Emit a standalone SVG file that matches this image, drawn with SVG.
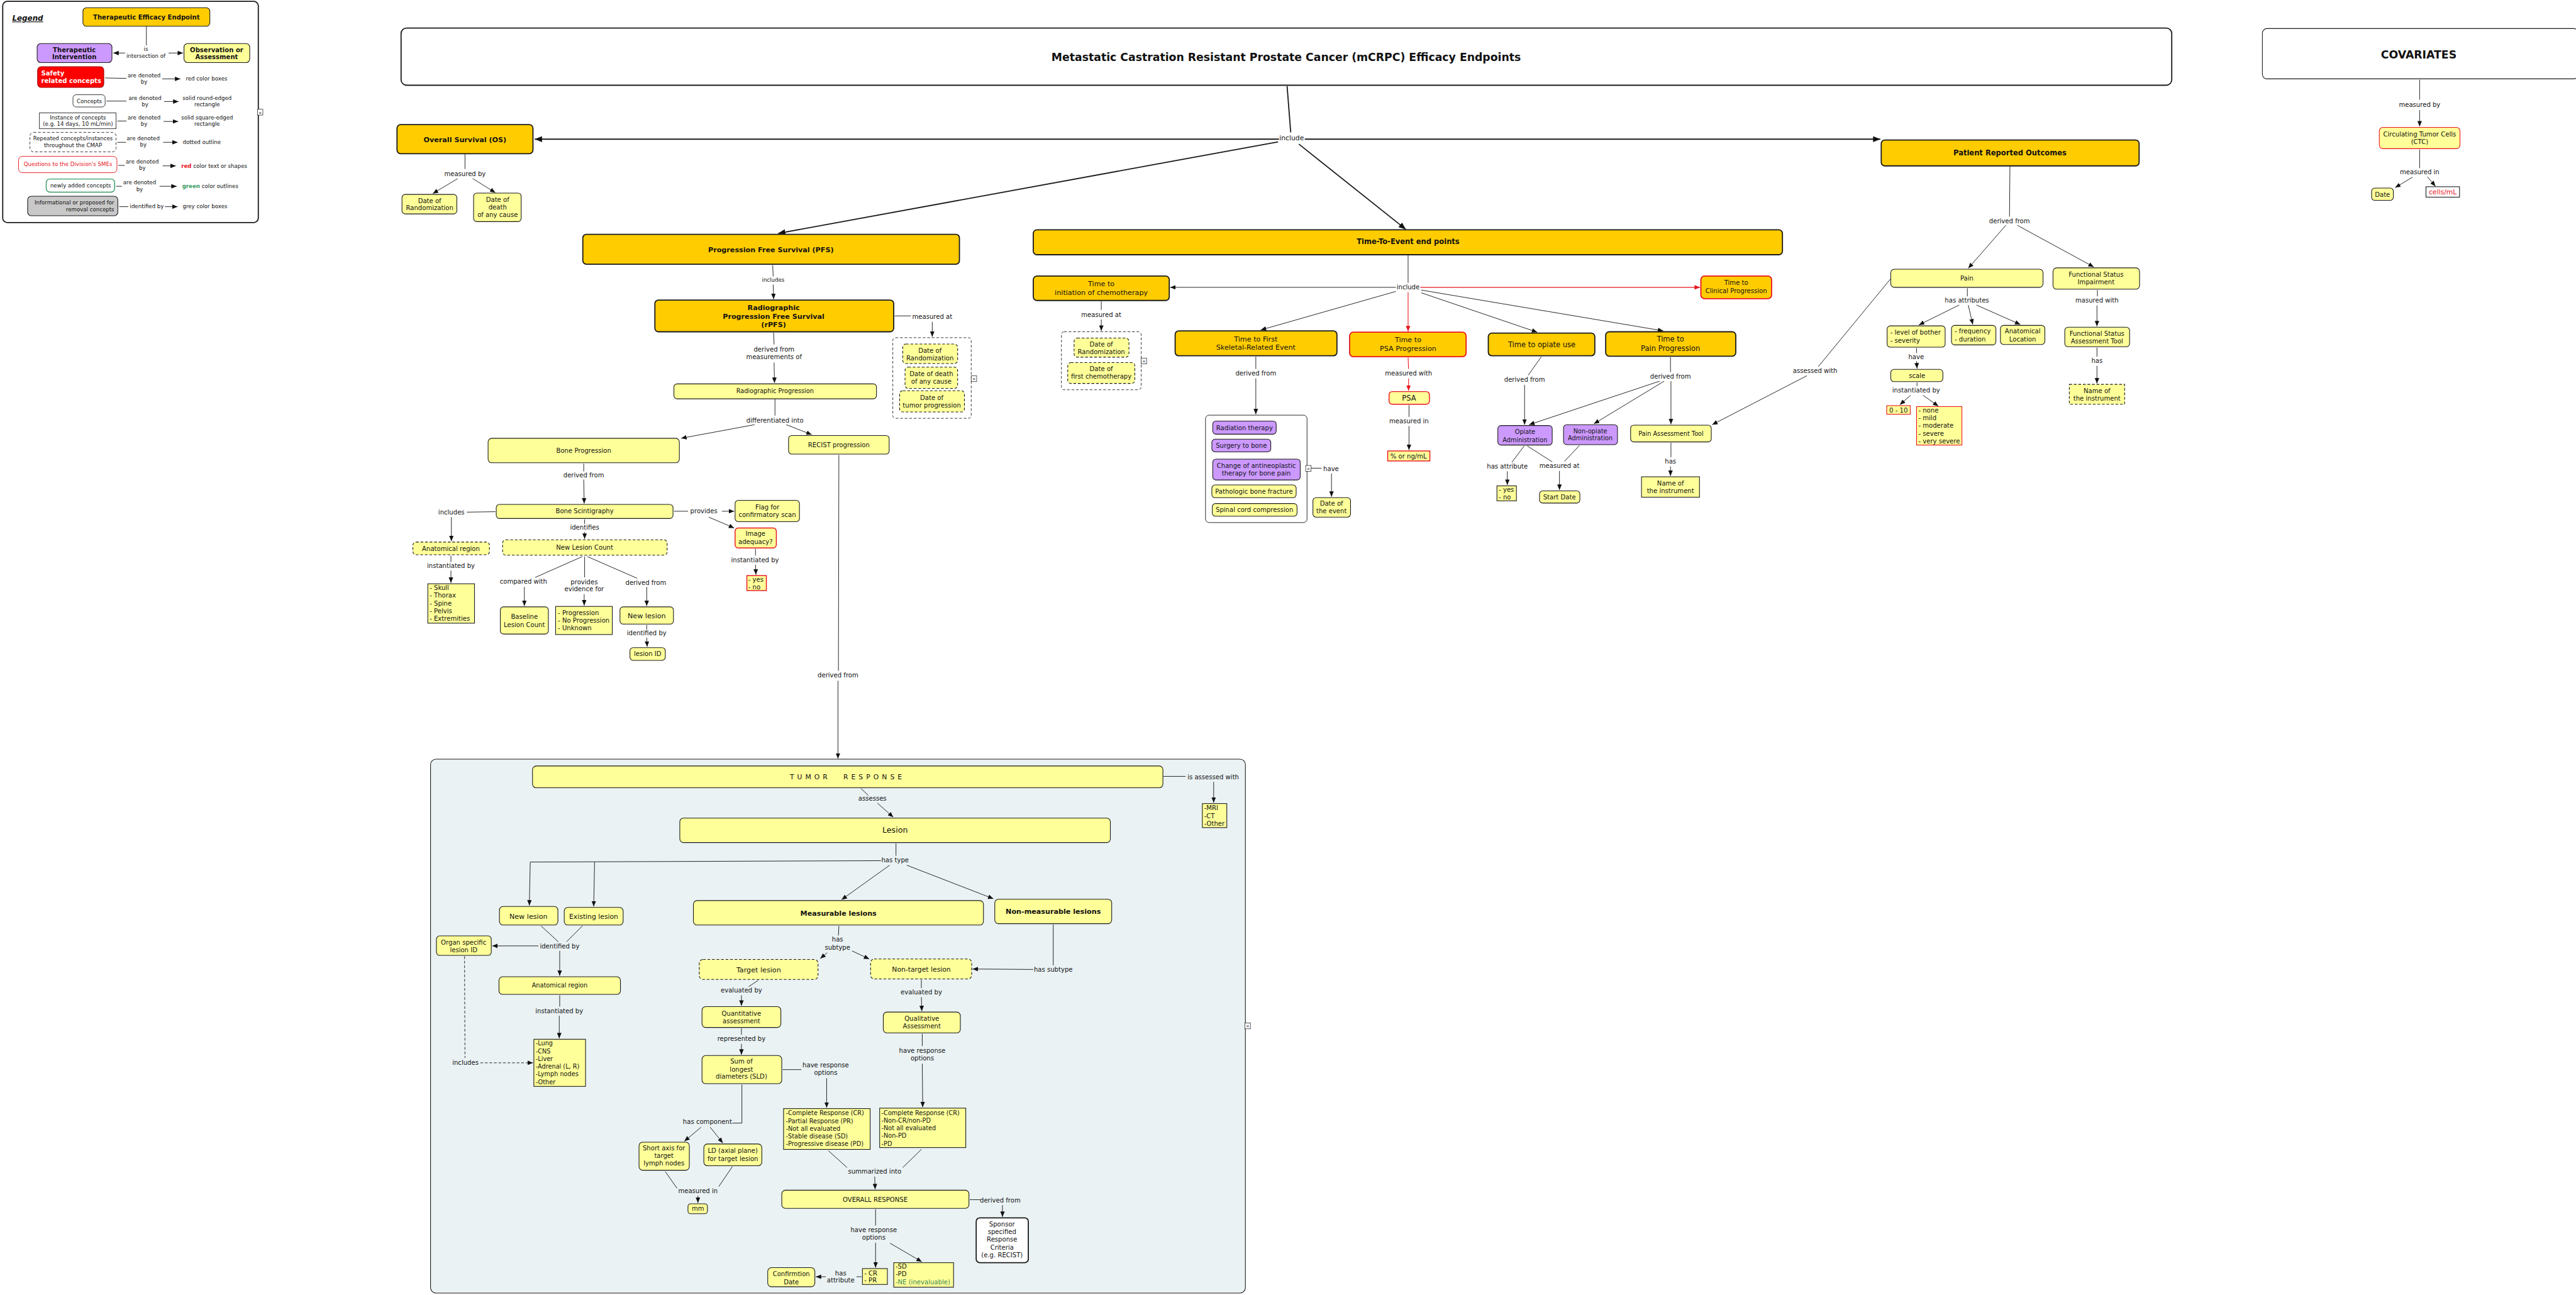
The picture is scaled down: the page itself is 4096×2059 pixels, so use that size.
<svg xmlns="http://www.w3.org/2000/svg" width="4096" height="2059" viewBox="0 0 4096 2059">
<defs>
<style>
text{font-family:"DejaVu Sans",Verdana,"Liberation Sans",sans-serif;font-size:14px;fill:#111;text-anchor:middle}
.l{text-anchor:start}
.e{text-anchor:end}
.b{font-weight:bold}
.f12{font-size:12px}
.f135{font-size:13.5px}
.f15{font-size:15px}
.f155{font-size:15.5px}
.f16{font-size:16px}
.gold{fill:#FFCC00;stroke:#1a1a1a;stroke-width:2.5}
.yel{fill:#FFFF99;stroke:#1a1a1a;stroke-width:1.5}
.pur{fill:#CC99FF;stroke:#1a1a1a;stroke-width:1.5}
.wht{fill:#fff;stroke:#1a1a1a;stroke-width:1.5}
.grey{fill:#C8C8C8;stroke:#1a1a1a;stroke-width:1.5}
.dsh{stroke-dasharray:6 4}
.rs{stroke:#E8141E;stroke-width:2}
.c{fill:none;stroke:#1a1a1a;stroke-width:1.3}
.a{marker-end:url(#ar)}
.red{stroke:#E8141E;stroke-width:1.5}
.ra{marker-end:url(#arr)}
.th{stroke-width:2.5}
.ab{marker-end:url(#arb)}
.icon{fill:#fff;stroke:#1a1a1a;stroke-width:1}
.ic{font-size:11px}
</style>
<marker id="ar" viewBox="0 0 12 10" refX="12" refY="5" markerWidth="12" markerHeight="10" orient="auto" markerUnits="userSpaceOnUse"><path d="M0,0L12,5L0,10z" fill="#111"/></marker>
<marker id="arr" viewBox="0 0 12 10" refX="12" refY="5" markerWidth="12" markerHeight="10" orient="auto" markerUnits="userSpaceOnUse"><path d="M0,0L12,5L0,10z" fill="#E8141E"/></marker>
<marker id="arb" viewBox="0 0 16 13" refX="16" refY="6.5" markerWidth="16" markerHeight="13" orient="auto" markerUnits="userSpaceOnUse"><path d="M0,0L16,6.5L0,13z" fill="#111"/></marker>
</defs>
<rect width="4096" height="2059" fill="#fff"/>
<g transform="scale(0.720619)">

<!-- LEGEND -->
<g id="legend">
<rect x="6" y="3" width="564" height="488" rx="10" fill="#fff" stroke="#1a1a1a" stroke-width="2.5"/>
<text x="27" y="46" class="l b" style="font-style:italic;text-decoration:underline;font-size:16.5px">Legend</text>
<g id="lg-tee"><rect x="183" y="17" width="280" height="41" rx="8" class="gold" style="stroke-width:1.5"/><text x="323" y="43" class="b">Therapeutic Efficacy Endpoint</text></g>
<g id="lg-ti"><rect x="82" y="96" width="165" height="42" rx="8" class="pur"/><text class="b"><tspan x="164" y="115">Therapeutic</tspan><tspan x="164" y="131">Intervention</tspan></text></g>
<g id="lg-oa"><rect x="406" y="96" width="145" height="42" rx="8" class="yel"/><text class="b"><tspan x="478" y="115">Observation or</tspan><tspan x="478" y="131">Assessment</tspan></text></g>
<g id="lg-safety"><rect x="83" y="147" width="146" height="46" rx="8" fill="#FF0000" stroke="#900" stroke-width="1.5"/><text class="l b" style="fill:#fff"><tspan x="91" y="166">Safety</tspan><tspan x="91" y="183">related concepts</tspan></text></g>
<g id="lg-concepts"><rect x="161" y="209" width="71" height="27" rx="7" class="wht" style="stroke-width:1.2"/><text x="197" y="227" class="f12">Concepts</text></g>
<g id="lg-instance"><rect x="87" y="249" width="169" height="35" class="wht" style="stroke-width:1.2"/><text class="f12"><tspan x="172" y="263">Instance of concepts</tspan><tspan x="172" y="278">(e.g. 14 days, 10 mL/min)</tspan></text></g>
<g id="lg-repeated"><rect x="66" y="292" width="190" height="43" rx="8" class="wht dsh" style="stroke-width:1.2"/><text class="f12"><tspan x="161" y="310">Repeated concepts/instances</tspan><tspan x="161" y="325">throughout the CMAP</tspan></text></g>
<g id="lg-questions"><rect x="41" y="345" width="217" height="36" rx="8" fill="#fff" stroke="#E8141E" stroke-width="1.3"/><text x="150" y="367" class="f12" style="fill:#E8141E">Questions to the Division's  SMEs</text></g>
<g id="lg-newly"><rect x="102" y="395" width="151" height="29" rx="8" fill="#fff" stroke="#3A9A66" stroke-width="2"/><text x="178" y="414" class="f12">newly added concepts</text></g>
<g id="lg-info"><rect x="61" y="433" width="199" height="43" rx="8" class="grey"/><text class="f12 e"><tspan x="252" y="451">Informational or proposed for</tspan><tspan x="252" y="466">removal concepts</tspan></text></g>
<g id="lg-links">
<path class="c" d="M323,58V100"/>
<text class="f12"><tspan x="322" y="113">is</tspan><tspan x="322" y="128">intersection of</tspan></text>
<path class="c a" d="M276,117H250"/><path class="c a" d="M372,117H404"/>
<path class="c" d="M232,172L279,173"/><text class="f12"><tspan x="318" y="170">are denoted</tspan><tspan x="318" y="184">by</tspan></text><path class="c a" d="M358,174H398"/><text x="410" y="178" class="f12 l">red color boxes</text>
<path class="c" d="M235,223H279"/><text class="f12"><tspan x="320" y="220">are denoted</tspan><tspan x="320" y="235">by</tspan></text><path class="c a" d="M362,224H394"/><text class="f12"><tspan x="457" y="220">solid round-edged</tspan><tspan x="457" y="235">rectangle</tspan></text>
<path class="c" d="M259,267H279"/><text class="f12"><tspan x="318" y="263">are denoted</tspan><tspan x="318" y="278">by</tspan></text><path class="c a" d="M361,268H393"/><text class="f12"><tspan x="457" y="263">solid square-edged</tspan><tspan x="457" y="278">rectangle</tspan></text>
<path class="c" d="M259,314H278"/><text class="f12"><tspan x="316" y="310">are denoted</tspan><tspan x="316" y="324">by</tspan></text><path class="c a" d="M360,314H392"/><text x="403" y="318" class="f12 l">dotted outline</text>
<path class="c" d="M261,365H275"/><text class="f12"><tspan x="314" y="361">are denoted</tspan><tspan x="314" y="375">by</tspan></text><path class="c a" d="M359,366H388"/><text x="400" y="370" class="f12 l"><tspan class="b" style="fill:#E8141E">red</tspan> color text or shapes</text>
<path class="c" d="M256,411H269"/><text class="f12"><tspan x="308" y="407">are denoted</tspan><tspan x="308" y="422">by</tspan></text><path class="c a" d="M352,411H390"/><text x="402" y="415" class="f12 l"><tspan class="b" style="fill:#3A9A66">green</tspan> color outlines</text>
<path class="c" d="M263,456H283"/><text x="324" y="460" class="f12">identified by</text><path class="c a" d="M364,456H392"/><text x="403" y="460" class="f12 l">grey color boxes</text>
</g>
<rect x="568" y="241" width="12" height="13" class="icon"/><text x="574" y="252" class="ic">«</text>
</g>

<!-- TUMOR RESPONSE CONTAINER -->
<g id="tumor-response-container">
<rect x="950" y="1675" width="1798" height="1178" rx="12" fill="#EAF2F4" stroke="#1a1a1a" stroke-width="1.5"/>
<rect x="2747" y="2257" width="12" height="13" class="icon"/><text x="2753" y="2268" class="ic">«</text>
</g>

<!-- CONNECTORS -->
<g id="connectors">
<path class="c th" d="M2840,190L2848,292"/>
<text x="2850" y="310" class="f15">include</text>
<path class="c th ab" d="M2822,307H1180"/>
<path class="c th ab" d="M2879,307H4149"/>
<path class="c th ab" d="M2820,313L1717,515"/>
<path class="c th ab" d="M2866,318L3102,506"/>
<path class="c" d="M1026,340V373"/><text x="1026" y="388">measured by</text>
<path class="c a" d="M1010,394L955,427"/><path class="c a" d="M1043,394L1093,425"/>
<path class="c" d="M1705,585L1706,610"/><text x="1706" y="622" class="f12">includes</text><path class="c a" d="M1706,628L1707,660"/>
<path class="c" d="M1974,697H2010"/><text x="2057" y="703">measured at</text><path class="c a" d="M2057,710V743"/>
<path class="c" d="M1707,734L1708,760"/><text><tspan x="1708" y="776">derived from</tspan><tspan x="1708" y="793">measurements of</tspan></text><path class="c a" d="M1708,800L1709,845"/>
<path class="c" d="M1710,881V917"/><text x="1710" y="932">differentiated into</text>
<path class="c a" d="M1665,937L1503,967"/><path class="c a" d="M1735,937L1791,959"/>
<path class="c" d="M1288,1023V1040"/><text x="1288" y="1053">derived from</text><path class="c a" d="M1288,1058L1289,1111"/>
<path class="c" d="M1093,1129L1030,1130"/><text x="996" y="1135">includes</text><path class="c a" d="M996,1141V1194"/>
<path class="c" d="M1487,1128H1518"/><text x="1553" y="1133">provides</text><path class="c a" d="M1593,1128H1620"/><path class="c a" d="M1564,1141L1620,1165"/>
<path class="c" d="M1290,1146V1156"/><text x="1290" y="1169">identifies</text><path class="c a" d="M1290,1174V1189"/>
<path class="c" d="M995,1226V1240"/><text x="995" y="1253">instantiated by</text><path class="c a" d="M995,1259V1286"/>
<path class="c" d="M1285,1228L1181,1274"/><text x="1155" y="1288">compared with</text><path class="c a" d="M1157,1295V1337"/>
<path class="c" d="M1290,1228V1274"/><text><tspan x="1289" y="1289">provides</tspan><tspan x="1289" y="1305">evidence for</tspan></text><path class="c a" d="M1289,1311V1336"/>
<path class="c" d="M1296,1228L1406,1276"/><text x="1425" y="1290">derived from</text><path class="c a" d="M1427,1295V1337"/>
<path class="c" d="M1427,1379V1389"/><text x="1427" y="1402">identified by</text><path class="c a" d="M1427,1407L1428,1427"/>
<path class="c" d="M1667,1211V1226"/><text x="1666" y="1240">instantiated by</text><path class="c a" d="M1667,1246L1668,1268"/>
<path class="c" d="M1851,1004L1850,1480"/><text x="1849" y="1495">derived from</text><path class="c a" d="M1849,1502V1674"/>
<path class="c" d="M3107,563V624"/><text x="3107" y="639">include</text>
<path class="c a" d="M3080,634H2582"/>
<path class="c red ra" d="M3134,634H3751"/>
<path class="c red ra" d="M3107,645V731"/>
<path class="c a" d="M3080,643L2782,728"/>
<path class="c a" d="M3136,646L3392,733"/>
<path class="c a" d="M3136,640L3670,730"/>
<path class="c" d="M2430,665V684"/><text x="2430" y="699">measured at</text><path class="c a" d="M2430,705V730"/>
<path class="c" d="M2771,787V814"/><text x="2771" y="829">derived from</text><path class="c a" d="M2771,835V914"/>
<path class="c red" d="M3107,789L3108,814"/><text x="3108" y="829">measured with</text><path class="c red ra" d="M3108,835V862"/>
<path class="c" d="M3109,894V920"/><text x="3109" y="934">measured in</text><path class="c a" d="M3109,940V993"/>
<path class="c" d="M2886,1033H2916"/><text x="2937" y="1039">have</text><path class="c a" d="M2938,1045V1096"/>
<path class="c" d="M3401,787L3372,828"/><text x="3364" y="843">derived from</text><path class="c a" d="M3364,849V937"/>
<path class="c" d="M3686,788V821"/><text x="3686" y="835">derived from</text>
<path class="c a" d="M3662,841L3374,937"/><path class="c a" d="M3672,841L3517,935"/><path class="c a" d="M3687,841V936"/>
<path class="c" d="M4171,616L4012,809"/><text x="4005" y="823">assessed with</text><path class="c a" d="M3987,829L3778,937"/>
<path class="c" d="M3363,984L3336,1020"/><text x="3326" y="1034">has attribute</text><path class="c a" d="M3326,1040V1070"/>
<path class="c" d="M3370,984L3425,1019"/><path class="c" d="M3485,983L3452,1018"/><text x="3441" y="1033">measured at</text><path class="c a" d="M3441,1039V1081"/>
<path class="c" d="M3687,977V1009"/><text x="3686" y="1023">has</text><path class="c a" d="M3686,1029V1050"/>
<path class="c" d="M4435,367L4434,478"/><text x="4434" y="492">derived from</text>
<path class="c a" d="M4426,497L4343,592"/><path class="c a" d="M4451,497L4620,589"/>
<path class="c" d="M4341,636V654"/><text x="4340" y="668">has attributes</text>
<path class="c a" d="M4323,673L4234,717"/><path class="c a" d="M4343,673L4353,716"/><path class="c a" d="M4361,673L4458,716"/>
<path class="c" d="M4229,768V779"/><text x="4228" y="792">have</text><path class="c a" d="M4229,797L4230,813"/>
<path class="c" d="M4230,844V852"/><text x="4228" y="866">instantiated  by</text><path class="c a" d="M4216,872L4192,893"/><path class="c a" d="M4243,872L4277,896"/>
<path class="c" d="M4628,640V654"/><text x="4627" y="668">masured with</text><path class="c a" d="M4627,674V720"/>
<path class="c" d="M4627,767V787"/><text x="4627" y="801">has</text><path class="c a" d="M4627,807V846"/>
<path class="c" d="M5339,176V220"/><text x="5339" y="236">measured by</text><path class="c a" d="M5339,243V279"/>
<path class="c" d="M5339,330V371"/><text x="5339" y="385">measured in</text><path class="c a" d="M5323,391L5285,414"/><path class="c a" d="M5356,390L5374,411"/>
<path class="c" d="M2567,1713H2616"/><text x="2677" y="1719">is assessed with</text><path class="c a" d="M2678,1725V1771"/>
<path class="c" d="M1900,1740L1916,1755"/><text x="1925" y="1767">assesses</text><path class="c a" d="M1936,1772L1971,1803"/>
<path class="c" d="M1977,1861V1888"/><text x="1975" y="1902">has type</text>
<path class="c" d="M1944,1899L1170,1902"/>
<path class="c a" d="M1170,1902L1168,1998"/><path class="c a" d="M1312,1902L1310,2000"/>
<path class="c a" d="M1963,1909L1857,1985"/><path class="c a" d="M2001,1909L2192,1983"/>
<path class="c" d="M1194,2043L1232,2078"/><path class="c" d="M1285,2043L1250,2078"/><text x="1235" y="2092">identified by</text>
<path class="c a" d="M1188,2087H1086"/><path class="c a" d="M1235,2098V2153"/>
<path class="c dsh" d="M1025,2110L1026,2334"/><text x="1027" y="2350">includes</text><path class="c a dsh" d="M1060,2345H1176"/>
<path class="c" d="M1235,2196V2221"/><text x="1234" y="2235">instantiated by</text><path class="c a" d="M1234,2241V2291"/>
<path class="c" d="M1851,2043L1850,2064"/><text><tspan x="1848" y="2078">has</tspan><tspan x="1848" y="2095">subtype</tspan></text>
<path class="c a" d="M1825,2102L1810,2115"/><path class="c a" d="M1880,2098L1918,2116"/>
<path class="c" d="M2324,2040V2130"/><text x="2324" y="2144">has subtype</text><path class="c a" d="M2280,2139L2146,2138"/>
<path class="c" d="M1673,2163L1652,2177"/><text x="1636" y="2190">evaluated  by</text><path class="c a" d="M1636,2196V2219"/>
<path class="c" d="M2033,2162V2180"/><text x="2033" y="2194">evaluated by</text><path class="c a" d="M2033,2200L2034,2231"/>
<path class="c" d="M1636,2269V2283"/><text x="1636" y="2297">represented by</text><path class="c a" d="M1636,2303V2327"/>
<path class="c" d="M1727,2360H1768"/><text><tspan x="1822" y="2355">have response</tspan><tspan x="1822" y="2372">options</tspan></text><path class="c a" d="M1824,2379V2444"/>
<path class="c" d="M1637,2393V2478H1616"/><text x="1561" y="2480">has component</text>
<path class="c a" d="M1547,2487L1510,2518"/><path class="c a" d="M1567,2487L1595,2522"/>
<path class="c" d="M2035,2281V2308"/><text><tspan x="2035" y="2323">have response</tspan><tspan x="2035" y="2340">options</tspan></text><path class="c a" d="M2035,2347L2036,2443"/>
<path class="c" d="M1468,2585L1494,2622"/><path class="c" d="M1616,2574L1586,2618"/><text x="1540" y="2632">measured in</text><path class="c a" d="M1540,2638V2654"/>
<path class="c" d="M1828,2539L1869,2576"/><path class="c" d="M2033,2536L1992,2576"/><text x="1930" y="2590">summarized into</text><path class="c a" d="M1930,2596L1931,2624"/>
<path class="c" d="M2140,2647H2163"/><text x="2207" y="2653">derived from</text><path class="c a" d="M2212,2659V2685"/>
<path class="c" d="M1932,2668V2704"/><text><tspan x="1928" y="2718">have response</tspan><tspan x="1928" y="2735">options</tspan></text>
<path class="c a" d="M1932,2742V2797"/><path class="c a" d="M1964,2743L2034,2784"/>
<path class="c" d="M1901,2817H1890"/><text><tspan x="1855" y="2814">has</tspan><tspan x="1855" y="2830">attribute</tspan></text><path class="c a" d="M1822,2817H1800"/>
</g>

<!-- NODES -->
<g id="n-title"><rect x="885" y="62" width="3907" height="126" rx="12" fill="#fff" stroke="#1a1a1a" stroke-width="2.5"/><text x="2838" y="134" class="b" style="font-size:24px">Metastatic Castration Resistant Prostate Cancer (mCRPC) Efficacy Endpoints</text></g>

<g id="n-os"><rect x="876" y="275" width="300" height="64" rx="8" class="gold"/><text x="1026" y="313" class="b f155">Overall Survival (OS)</text></g>
<g id="n-os-rand"><rect x="887" y="429" width="121" height="43" rx="7" class="yel"/><text><tspan x="948" y="448">Date of</tspan><tspan x="948" y="464">Randomization</tspan></text></g>
<g id="n-os-death"><rect x="1045" y="426" width="105" height="63" rx="7" class="yel"/><text><tspan x="1098" y="445">Date of</tspan><tspan x="1098" y="462">death</tspan><tspan x="1098" y="479">of any cause</tspan></text></g>
<g id="n-pfs"><rect x="1286" y="517" width="831" height="66" rx="8" class="gold"/><text x="1701" y="556" class="b f155">Progression Free Survival (PFS)</text></g>
<g id="n-rpfs"><rect x="1445" y="662" width="527" height="70" rx="8" class="gold"/><text class="b f155"><tspan x="1707" y="684">Radiographic</tspan><tspan x="1707" y="703">Progression Free Survival</tspan><tspan x="1707" y="722">(rPFS)</tspan></text></g>
<g id="n-rpfs-dates">
<rect x="1970" y="745" width="173" height="178" rx="6" fill="#fff" stroke="#1a1a1a" stroke-width="1.2" class="dsh"/>
<rect x="1992" y="759" width="121" height="43" rx="7" class="yel dsh"/><text><tspan x="2052" y="778">Date of</tspan><tspan x="2052" y="795">Randomization</tspan></text>
<rect x="1997" y="810" width="116" height="47" rx="7" class="yel dsh"/><text><tspan x="2055" y="830">Date of death</tspan><tspan x="2055" y="847">of any cause</tspan></text>
<rect x="1985" y="862" width="143" height="47" rx="7" class="yel dsh"/><text><tspan x="2056" y="882">Date of</tspan><tspan x="2056" y="899">tumor progression</tspan></text>
<rect x="2143" y="829" width="12" height="13" class="icon"/><text x="2149" y="840" class="ic">«</text>
</g>
<g id="n-rp"><rect x="1487" y="847" width="447" height="33" rx="7" class="yel"/><text x="1710" y="868" class="f135">Radiographic Progression</text></g>
<g id="n-bone"><rect x="1077" y="967" width="422" height="54" rx="8" class="yel"/><text x="1288" y="999">Bone Progression</text></g>
<g id="n-recist"><rect x="1740" y="961" width="222" height="41" rx="7" class="yel"/><text x="1851" y="986">RECIST progression</text></g>
<g id="n-bs"><rect x="1095" y="1113" width="390" height="31" rx="7" class="yel"/><text x="1290" y="1133">Bone Scintigraphy</text></g>
<g id="n-anat1"><rect x="911" y="1196" width="169" height="28" rx="7" class="yel dsh"/><text x="995" y="1215">Anatomical region</text></g>
<g id="n-skull"><rect x="944" y="1288" width="103" height="87" class="yel"/><text class="l"><tspan x="948" y="1302">- Skull</tspan><tspan x="948" y="1319">- Thorax</tspan><tspan x="948" y="1336">- Spine</tspan><tspan x="948" y="1353">- Pelvis</tspan><tspan x="948" y="1370">- Extremities</tspan></text></g>
<g id="n-nlc"><rect x="1109" y="1191" width="363" height="34" rx="7" class="yel dsh"/><text x="1290" y="1213">New Lesion Count</text></g>
<g id="n-blc"><rect x="1104" y="1339" width="106" height="60" rx="7" class="yel"/><text><tspan x="1157" y="1366">Baseline</tspan><tspan x="1157" y="1383">Lesion Count</tspan></text></g>
<g id="n-prog"><rect x="1226" y="1338" width="125" height="62" class="yel"/><text class="l"><tspan x="1231" y="1357">- Progression</tspan><tspan x="1231" y="1374">- No Progression</tspan><tspan x="1231" y="1391">- Unknown</tspan></text></g>
<g id="n-newlesion1"><rect x="1368" y="1339" width="118" height="38" rx="7" class="yel"/><text x="1427" y="1364" class="f155">New lesion</text></g>
<g id="n-lesionid"><rect x="1390" y="1429" width="78" height="28" rx="7" class="yel"/><text x="1429" y="1448">lesion ID</text></g>
<g id="n-flag"><rect x="1622" y="1104" width="142" height="47" rx="7" class="yel"/><text><tspan x="1693" y="1124">Flag for</tspan><tspan x="1693" y="1141">confirmatory scan</tspan></text></g>
<g id="n-img"><rect x="1622" y="1165" width="91" height="44" rx="7" class="yel rs"/><text><tspan x="1667" y="1183">Image</tspan><tspan x="1667" y="1200">adequacy?</tspan></text></g>
<g id="n-yesno1"><rect x="1648" y="1270" width="43" height="33" class="yel rs"/><text class="l"><tspan x="1651" y="1283">- yes</tspan><tspan x="1651" y="1300">- no</tspan></text></g>

<g id="n-tte"><rect x="2280" y="507" width="1653" height="55" rx="8" class="gold"/><text x="3107" y="539" class="b f16">Time-To-Event end points</text></g>
<g id="n-chemo"><rect x="2280" y="609" width="300" height="54" rx="8" class="gold"/><text class="f155"><tspan x="2430" y="631">Time to</tspan><tspan x="2430" y="651">initiation of chemotherapy</tspan></text></g>
<g id="n-chemo-dates">
<rect x="2342" y="732" width="176" height="128" rx="6" fill="#fff" stroke="#1a1a1a" stroke-width="1.2" class="dsh"/>
<rect x="2370" y="746" width="121" height="42" rx="7" class="yel dsh"/><text><tspan x="2430" y="764">Date of</tspan><tspan x="2430" y="781">Randomization</tspan></text>
<rect x="2356" y="800" width="148" height="46" rx="7" class="yel dsh"/><text><tspan x="2430" y="819">Date of</tspan><tspan x="2430" y="836">first chemotherapy</tspan></text>
<rect x="2518" y="790" width="12" height="13" class="icon"/><text x="2524" y="801" class="ic">«</text>
</g>
<g id="n-tfsre"><rect x="2593" y="730" width="357" height="55" rx="8" class="gold"/><text class="f155"><tspan x="2771" y="753">Time to First</tspan><tspan x="2771" y="772">Skeletal-Related Event</tspan></text></g>
<g id="n-psaprog"><rect x="2978" y="733" width="257" height="54" rx="8" class="gold" style="stroke:#E8141E"/><text class="f155"><tspan x="3107" y="755">Time to</tspan><tspan x="3107" y="774">PSA Progression</tspan></text></g>
<g id="n-psa"><rect x="3065" y="864" width="89" height="28" rx="7" class="yel rs"/><text x="3109" y="884" class="f16">PSA</text></g>
<g id="n-pct"><rect x="3062" y="995" width="93" height="22" class="yel rs"/><text x="3108" y="1011">% or ng/mL</text></g>
<g id="n-sre">
<rect x="2660" y="916" width="224" height="237" rx="8" fill="#fff" stroke="#1a1a1a" stroke-width="1.3"/>
<rect x="2676" y="929" width="140" height="29" rx="7" class="pur"/><text x="2746" y="949">Radiation therapy</text>
<rect x="2674" y="969" width="130" height="28" rx="7" class="pur"/><text x="2739" y="988">Surgery to bone</text>
<rect x="2676" y="1013" width="193" height="46" rx="7" class="pur"/><text><tspan x="2772" y="1032">Change of antineoplastic</tspan><tspan x="2772" y="1049">therapy for bone pain</tspan></text>
<rect x="2674" y="1070" width="186" height="28" rx="7" class="yel"/><text x="2767" y="1089">Pathologic bone fracture</text>
<rect x="2675" y="1111" width="187" height="28" rx="7" class="yel"/><text x="2768" y="1130">Spinal cord compression</text>
<rect x="2881" y="1027" width="12" height="13" class="icon"/><text x="2887" y="1038" class="ic">«</text>
</g>
<g id="n-dateevent"><rect x="2897" y="1098" width="83" height="43" rx="7" class="yel"/><text><tspan x="2938" y="1116">Date of</tspan><tspan x="2938" y="1133">the event</tspan></text></g>
<g id="n-clin"><rect x="3753" y="609" width="156" height="50" rx="8" class="gold" style="stroke:#E8141E"/><text><tspan x="3831" y="629">Time to</tspan><tspan x="3831" y="647">Clinical Progression</tspan></text></g>
<g id="n-opiateuse"><rect x="3284" y="735" width="235" height="50" rx="8" class="gold"/><text x="3402" y="766" class="f16">Time to opiate use</text></g>
<g id="n-painprog"><rect x="3543" y="732" width="287" height="54" rx="8" class="gold"/><text class="f16"><tspan x="3686" y="754">Time to</tspan><tspan x="3686" y="774">Pain Progression</tspan></text></g>
<g id="n-opadm"><rect x="3305" y="939" width="120" height="43" rx="7" class="pur"/><text class="f135"><tspan x="3365" y="958">Opiate</tspan><tspan x="3365" y="975">Administration</tspan></text></g>
<g id="n-nonop"><rect x="3450" y="937" width="119" height="44" rx="7" class="pur"/><text class="f135"><tspan x="3509" y="956">Non-opiate</tspan><tspan x="3509" y="972">Administration</tspan></text></g>
<g id="n-pat"><rect x="3598" y="938" width="178" height="37" rx="7" class="yel"/><text x="3687" y="961" class="f135">Pain Assessment Tool</text></g>
<g id="n-name1"><rect x="3622" y="1052" width="128" height="45" class="yel"/><text><tspan x="3686" y="1071">Name of</tspan><tspan x="3686" y="1088">the instrument</tspan></text></g>
<g id="n-yesno2"><rect x="3303" y="1072" width="43" height="33" class="yel"/><text class="l"><tspan x="3307" y="1085">- yes</tspan><tspan x="3307" y="1102">- no</tspan></text></g>
<g id="n-start"><rect x="3397" y="1083" width="89" height="27" rx="7" class="yel"/><text x="3441" y="1102">Start Date</text></g>

<g id="n-pro"><rect x="4151" y="309" width="569" height="57" rx="8" class="gold"/><text x="4435" y="343" class="b f16">Patient Reported Outcomes</text></g>
<g id="n-pain"><rect x="4172" y="594" width="336" height="40" rx="8" class="yel"/><text x="4340" y="619">Pain</text></g>
<g id="n-fsi"><rect x="4530" y="591" width="191" height="47" rx="8" class="yel"/><text><tspan x="4625" y="610">Functional Status</tspan><tspan x="4625" y="627">Impairment</tspan></text></g>
<g id="n-lob"><rect x="4164" y="719" width="128" height="47" rx="7" class="yel"/><text class="l"><tspan x="4171" y="738">- level of bother</tspan><tspan x="4171" y="756">- severity</tspan></text></g>
<g id="n-freq"><rect x="4306" y="718" width="98" height="43" rx="7" class="yel"/><text class="l"><tspan x="4313" y="736">- frequency</tspan><tspan x="4313" y="754">- duration</tspan></text></g>
<g id="n-anloc"><rect x="4414" y="718" width="98" height="42" rx="7" class="yel"/><text><tspan x="4463" y="736">Anatomical</tspan><tspan x="4463" y="753">Location</tspan></text></g>
<g id="n-scale"><rect x="4172" y="815" width="115" height="27" rx="7" class="yel"/><text x="4230" y="834">scale</text></g>
<g id="n-010"><rect x="4163" y="895" width="52" height="19" class="yel rs" style="stroke-width:1.5"/><text x="4189" y="910">0 - 10</text></g>
<g id="n-none"><rect x="4229" y="897" width="100" height="85" class="yel rs" style="stroke-width:1.5"/><text class="l"><tspan x="4233" y="910">- none</tspan><tspan x="4233" y="927">- mild</tspan><tspan x="4233" y="944">- moderate</tspan><tspan x="4233" y="961">- severe</tspan><tspan x="4233" y="978">- very severe</tspan></text></g>
<g id="n-fsat"><rect x="4556" y="722" width="143" height="43" rx="7" class="yel"/><text><tspan x="4627" y="741">Functional Status</tspan><tspan x="4627" y="758">Assessment Tool</tspan></text></g>
<g id="n-name2"><rect x="4566" y="848" width="122" height="44" class="yel dsh"/><text><tspan x="4627" y="867">Name of</tspan><tspan x="4627" y="884">the instrument</tspan></text></g>

<g id="n-cov"><rect x="4992" y="63" width="697" height="111" rx="10" fill="#fff" stroke="#1a1a1a" stroke-width="1.5"/><text x="5337" y="129" class="b" style="font-size:24px">COVARIATES</text></g>
<g id="n-ctc"><rect x="5250" y="281" width="178" height="47" rx="8" class="yel rs" style="stroke-width:1.5"/><text><tspan x="5339" y="301">Circulating Tumor Cells</tspan><tspan x="5339" y="318">(CTC)</tspan></text></g>
<g id="n-date"><rect x="5233" y="415" width="48" height="27" rx="7" class="yel"/><text x="5257" y="434">Date</text></g>
<g id="n-cells"><rect x="5353" y="412" width="74" height="23" class="wht"/><text x="5390" y="429" class="f15" style="fill:#E8141E">cells/mL</text></g>

<g id="n-tr"><rect x="1175" y="1690" width="1391" height="48" rx="8" class="yel"/><text x="1870" y="1719" class="f15" style="letter-spacing:7px;word-spacing:16px">TUMOR RESPONSE</text></g>
<g id="n-mri"><rect x="2653" y="1773" width="54" height="53" class="yel"/><text class="l"><tspan x="2657" y="1788">-MRI</tspan><tspan x="2657" y="1805">-CT</tspan><tspan x="2657" y="1822">-Other</tspan></text></g>
<g id="n-lesion"><rect x="1500" y="1805" width="950" height="54" rx="8" class="yel"/><text x="1975" y="1838" style="font-size:17.5px">Lesion</text></g>
<g id="n-newlesion2"><rect x="1102" y="2000" width="129" height="41" rx="8" class="yel"/><text x="1166" y="2027" class="f155">New lesion</text></g>
<g id="n-existing"><rect x="1245" y="2002" width="130" height="39" rx="8" class="yel"/><text x="1310" y="2027" class="f15">Existing lesion</text></g>
<g id="n-meas"><rect x="1530" y="1987" width="640" height="54" rx="8" class="yel"/><text x="1850" y="2021" class="b f155">Measurable lesions</text></g>
<g id="n-nonmeas"><rect x="2195" y="1984" width="258" height="54" rx="8" class="yel"/><text x="2324" y="2017" class="b f155">Non-measurable lesions</text></g>
<g id="n-organ"><rect x="963" y="2065" width="121" height="43" rx="7" class="yel"/><text><tspan x="1023" y="2084">Organ specific</tspan><tspan x="1023" y="2101">lesion ID</tspan></text></g>
<g id="n-anat2"><rect x="1101" y="2155" width="268" height="39" rx="8" class="yel"/><text x="1235" y="2179" class="f135">Anatomical region</text></g>
<g id="n-lung"><rect x="1178" y="2293" width="114" height="104" class="yel"/><text class="l f135"><tspan x="1182" y="2307">-Lung</tspan><tspan x="1182" y="2325">-CNS</tspan><tspan x="1182" y="2341">-Liver</tspan><tspan x="1182" y="2358">-Adrenal (L, R)</tspan><tspan x="1182" y="2375">-Lymph nodes</tspan><tspan x="1182" y="2393">-Other</tspan></text></g>
<g id="n-target"><rect x="1543" y="2117" width="262" height="44" rx="8" class="yel dsh"/><text x="1674" y="2145" class="f155">Target lesion</text></g>
<g id="n-nontarget"><rect x="1921" y="2116" width="223" height="44" rx="8" class="yel dsh"/><text x="2033" y="2144" class="f15">Non-target lesion</text></g>
<g id="n-quant"><rect x="1549" y="2221" width="174" height="46" rx="8" class="yel"/><text><tspan x="1636" y="2241">Quantitative</tspan><tspan x="1636" y="2258">assessment</tspan></text></g>
<g id="n-qual"><rect x="1949" y="2233" width="170" height="46" rx="8" class="yel"/><text><tspan x="2034" y="2252">Qualitative</tspan><tspan x="2034" y="2269">Assessment</tspan></text></g>
<g id="n-sld"><rect x="1549" y="2329" width="176" height="62" rx="8" class="yel"/><text><tspan x="1636" y="2347">Sum of</tspan><tspan x="1636" y="2364">longest</tspan><tspan x="1636" y="2380">diameters (SLD)</tspan></text></g>
<g id="n-short"><rect x="1410" y="2520" width="111" height="62" rx="8" class="yel"/><text><tspan x="1465" y="2538">Short axis for</tspan><tspan x="1465" y="2555">target</tspan><tspan x="1465" y="2572">lymph nodes</tspan></text></g>
<g id="n-ld"><rect x="1553" y="2524" width="128" height="48" rx="8" class="yel"/><text><tspan x="1617" y="2544">LD (axial plane)</tspan><tspan x="1617" y="2561">for target lesion</tspan></text></g>
<g id="n-mm"><rect x="1518" y="2656" width="43" height="22" rx="6" class="yel"/><text x="1540" y="2672">mm</text></g>
<g id="n-cr1"><rect x="1729" y="2446" width="191" height="90" class="yel"/><text class="l f135"><tspan x="1734" y="2461">-Complete Response (CR)</tspan><tspan x="1734" y="2478">-Partial Response (PR)</tspan><tspan x="1734" y="2495">-Not all evaluated</tspan><tspan x="1734" y="2512">-Stable disease (SD)</tspan><tspan x="1734" y="2529">-Progressive disease (PD)</tspan></text></g>
<g id="n-cr2"><rect x="1941" y="2445" width="190" height="87" class="yel"/><text class="l f135"><tspan x="1945" y="2460">-Complete Response (CR)</tspan><tspan x="1945" y="2477">-Non-CR/non-PD</tspan><tspan x="1945" y="2494">-Not all evaluated</tspan><tspan x="1945" y="2511">-Non-PD</tspan><tspan x="1945" y="2528">-PD</tspan></text></g>
<g id="n-overall"><rect x="1725" y="2626" width="413" height="40" rx="8" class="yel"/><text x="1931" y="2652">OVERALL RESPONSE</text></g>
<g id="n-sponsor"><rect x="2154" y="2687" width="115" height="99" rx="8" fill="#fff" stroke="#1a1a1a" stroke-width="2.5"/><text><tspan x="2211" y="2706">Sponsor</tspan><tspan x="2211" y="2723">specified</tspan><tspan x="2211" y="2740">Response</tspan><tspan x="2211" y="2757">Criteria</tspan><tspan x="2211" y="2774">(e.g. RECIST)</tspan></text></g>
<g id="n-crpr"><rect x="1903" y="2799" width="55" height="35" class="yel"/><text class="l"><tspan x="1907" y="2814">- CR</tspan><tspan x="1907" y="2830">- PR</tspan></text></g>
<g id="n-sdpd"><rect x="1972" y="2786" width="132" height="54" class="yel"/><text class="l"><tspan x="1976" y="2799">-SD</tspan><tspan x="1976" y="2816">-PD</tspan><tspan x="1976" y="2834" style="fill:#3A8A5A">-NE (inevaluable)</tspan></text></g>
<g id="n-confirm"><rect x="1694" y="2797" width="104" height="42" rx="8" class="yel"/><text><tspan x="1746" y="2816">Confirmtion</tspan><tspan x="1746" y="2833">Date</tspan></text></g>
</g>
</svg>
